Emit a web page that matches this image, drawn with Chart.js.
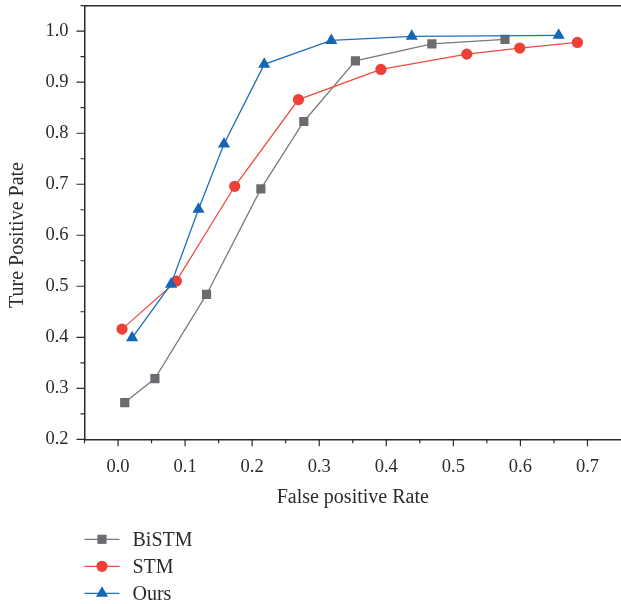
<!DOCTYPE html>
<html>
<head>
<meta charset="utf-8">
<script src="https://cdn.jsdelivr.net/npm/chart.js@4.4.0/dist/chart.umd.min.js"></script>
<style>
  html, body { margin: 0; padding: 0; background: #fff; }
  #wrap { width: 621px; height: 604px; }
</style>
</head>
<body>
<div id="wrap"><canvas id="roc" width="621" height="604"></canvas></div>
<script>
// ROC curve values
const seriesNames = ['BiSTM', 'STM', 'Ours'];

const bistmFpr = [0.010, 0.055, 0.132, 0.213, 0.277, 0.354, 0.468, 0.577];
const bistmTpr = [0.272, 0.319, 0.484, 0.691, 0.823, 0.942, 0.975, 0.984];

const stmFpr = [0.006, 0.087, 0.174, 0.269, 0.392, 0.520, 0.599, 0.685];
const stmTpr = [0.416, 0.510, 0.696, 0.866, 0.925, 0.955, 0.967, 0.978];

const oursFpr = [0.021, 0.079, 0.120, 0.158, 0.218, 0.318, 0.438, 0.657];
const oursTpr = [0.399, 0.504, 0.651, 0.779, 0.935, 0.982, 0.990, 0.992];

const xTicks = [0.0, 0.1, 0.2, 0.3, 0.4, 0.5, 0.6, 0.7];
const yTicks = [0.2, 0.3, 0.4, 0.5, 0.6, 0.7, 0.8, 0.9, 1.0];

const ink = '#2b2b2b';
const family = "'Liberation Serif', 'DejaVu Serif', serif";
const tickFont = { family: family, size: 18.5 };
const titleFont = { family: family, size: 20 };

function toPoints(xs, ys) {
    return xs.map((x, i) => ({ x: x, y: ys[i] }));
}

// draws top border, major/minor tick marks and the vertical legend
const framePlugin = {
    id: 'frame',
    afterDraw(chart) {
        const ctx = chart.ctx;
        const area = chart.chartArea;
        const xs = chart.scales.x;
        const ys = chart.scales.y;
        ctx.save();
        ctx.strokeStyle = ink;
        ctx.lineWidth = 1.5;
        ctx.beginPath();
        ctx.moveTo(area.left, area.top);
        ctx.lineTo(area.right, area.top);
        ctx.stroke();

        ctx.lineWidth = 1.2;
        const xStep = xTicks[1] - xTicks[0];
        const yStep = yTicks[1] - yTicks[0];
        ctx.beginPath();
        for (let v = xTicks[0] - xStep / 2; v <= xTicks[xTicks.length - 1] + 1e-9; v += xStep / 2) {
            const major = xTicks.some(t => Math.abs(t - v) < 1e-6);
            const px = xs.getPixelForValue(v);
            ctx.moveTo(px, area.bottom);
            ctx.lineTo(px, area.bottom + (major ? 7 : 4));
        }
        for (let v = yTicks[0]; v <= ys.max + 1e-9; v += yStep / 2) {
            const major = yTicks.some(t => Math.abs(t - v) < 1e-6);
            const py = ys.getPixelForValue(v);
            ctx.moveTo(area.left, py);
            ctx.lineTo(area.left - (major ? 8 : 4), py);
        }
        ctx.stroke();

        // legend
        ctx.font = titleFont.size + 'px ' + family;
        ctx.textBaseline = 'middle';
        chart.data.datasets.forEach((ds, i) => {
            const y = area.bottom + 100 + i * 27;
            const x0 = area.left;
            ctx.strokeStyle = ds.borderColor;
            ctx.lineWidth = ds.borderWidth;
            ctx.beginPath();
            ctx.moveTo(x0, y);
            ctx.lineTo(x0 + 35, y);
            ctx.stroke();
            ctx.fillStyle = ds.pointBackgroundColor;
            ctx.strokeStyle = ds.pointBackgroundColor;
            Chart.helpers.drawPoint(ctx, {
                pointStyle: ds.pointStyle,
                radius: ds.pointRadius,
                borderWidth: 0
            }, x0 + 17.5, y);
            ctx.fillStyle = ink;
            ctx.fillText(ds.label, x0 + 48, y + 1);
        });
        ctx.restore();
    }
};

const ctx = document.getElementById('roc').getContext('2d');
const rocChart = new Chart(ctx, {
    type: 'scatter',
    data: {
        datasets: [{
            label: seriesNames[0],
            data: toPoints(bistmFpr, bistmTpr),
            showLine: true,
            borderColor: '#7a7a7c',
            borderWidth: 1.3,
            pointStyle: 'rect',
            pointRadius: 6.5,
            pointBorderWidth: 0,
            pointBackgroundColor: '#6b6c6f',
            order: 3
        }, {
            label: seriesNames[1],
            data: toPoints(stmFpr, stmTpr),
            showLine: true,
            borderColor: '#ef4a3f',
            borderWidth: 1.3,
            pointStyle: 'circle',
            pointRadius: 5.6,
            pointBorderWidth: 0,
            pointBackgroundColor: '#ee4036',
            order: 2
        }, {
            label: seriesNames[2],
            data: toPoints(oursFpr, oursTpr),
            showLine: true,
            borderColor: '#1f6fba',
            borderWidth: 1.3,
            pointStyle: 'triangle',
            pointRadius: 7,
            pointBorderWidth: 0,
            pointBackgroundColor: '#1566b5',
            order: 1
        }]
    },
    options: {
        responsive: false,
        animation: false,
        layout: { autoPadding: false, padding: { top: 5.7, right: 0, bottom: 90.7, left: 0 } },
        plugins: {
            legend: { display: false },
            tooltip: { enabled: false }
        },
        scales: {
            x: {
                type: 'linear',
                min: -0.05,
                max: 0.75,
                afterBuildTicks: scale => { scale.ticks = xTicks.map(v => ({ value: v })); },
                afterFit: scale => {
                    scale.height = 74;
                    scale.paddingLeft = 0;
                    scale.paddingRight = 0;
                },
                grid: { display: false, drawTicks: false },
                border: { display: true, color: ink, width: 1.5 },
                ticks: {
                    autoSkip: false,
                    maxRotation: 0,
                    padding: 17,
                    color: ink,
                    font: tickFont,
                    callback: v => Number(v).toFixed(1)
                },
                title: {
                    display: true,
                    text: 'False positive Rate',
                    color: ink,
                    font: titleFont,
                    padding: { top: 12 }
                }
            },
            y: {
                type: 'linear',
                min: 0.2,
                max: 1.05,
                afterBuildTicks: scale => { scale.ticks = yTicks.map(v => ({ value: v })); },
                afterFit: scale => {
                    scale.width = 84.5;
                    scale.paddingTop = 0;
                    scale.paddingBottom = 0;
                },
                grid: { display: false, drawTicks: false },
                border: { display: true, color: ink, width: 1.5 },
                ticks: {
                    autoSkip: false,
                    padding: 16,
                    color: ink,
                    font: tickFont,
                    callback: v => Number(v).toFixed(1)
                },
                title: {
                    display: true,
                    text: 'Ture Positive Pate' + '     ',
                    color: ink,
                    font: titleFont,
                    padding: { top: 6, bottom: 0 }
                }
            }
        }
    },
    plugins: [framePlugin]
});
</script>
</body>
</html>
